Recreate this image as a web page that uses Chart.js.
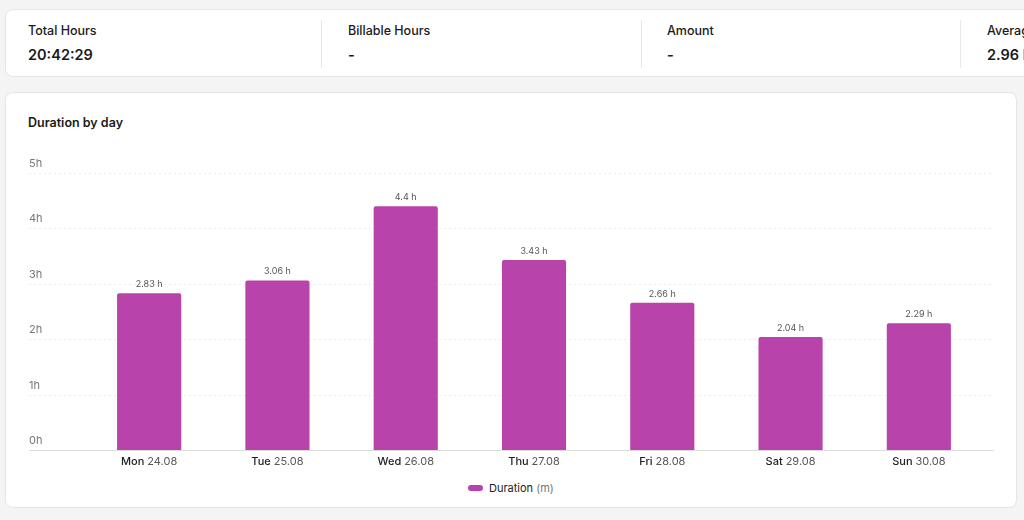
<!DOCTYPE html>
<html><head><meta charset="utf-8">
<script src="https://cdn.jsdelivr.net/npm/chart.js@4"></script>
<style>
body{margin:0;background:#f4f4f4;font-family:Inter,sans-serif;width:1024px;height:520px;overflow:hidden;position:relative}
.stats{position:absolute;left:5px;top:9px;width:1030px;height:68px;background:#fff;border:1px solid #e6e6e6;border-radius:8px;box-sizing:border-box}
.stat{position:absolute;top:0;height:68px}
.stat .l{position:absolute;top:13px;font-size:12.5px;font-weight:500;color:#1a1a1a;white-space:nowrap}
.stat .v{position:absolute;top:36px;font-size:14.5px;font-weight:600;color:#1a1a1a;white-space:nowrap}
.sep{position:absolute;top:10px;width:1px;height:48px;background:#e8e8e8}
.card{position:absolute;left:5px;top:92px;width:1012px;height:416px;background:#fff;border:1px solid #e6e6e6;border-radius:8px;box-sizing:border-box}
.title{position:absolute;left:22px;top:22px;font-size:12.5px;font-weight:600;color:#1a1a1a}
.wrap{position:absolute;left:-1px;top:47px;width:1012px;height:335px}
.legend{position:absolute;top:388px;left:462px;font-size:11px;color:#222;display:flex;align-items:center}
.legend i{display:inline-block;width:15px;height:6px;border-radius:3px;background:#b844ab;margin-right:6px}
.legend span{color:#777;margin-left:3px}
</style></head><body>
<div class="stats">
  <div class="stat" style="left:22px"><div class="l">Total Hours</div><div class="v">20:42:29</div></div>
  <div class="sep" style="left:315px"></div>
  <div class="stat" style="left:342px"><div class="l">Billable Hours</div><div class="v">-</div></div>
  <div class="sep" style="left:635px"></div>
  <div class="stat" style="left:661px"><div class="l">Amount</div><div class="v">-</div></div>
  <div class="sep" style="left:954px"></div>
  <div class="stat" style="left:981px"><div class="l">Average</div><div class="v">2.96 h</div></div>
</div>
<div class="card">
  <div class="title">Duration by day</div>
  <div class="wrap"><canvas id="c" width="1012" height="335" style="width:1012px;height:335px"></canvas></div>
  <div class="legend"><i></i>Duration<span>(m)</span></div>
</div>
<script>
const days = ['Mon','Tue','Wed','Thu','Fri','Sat','Sun'];
const dates = ['24.08','25.08','26.08','27.08','28.08','29.08','30.08'];
const hours = [2.83, 3.06, 4.4, 3.43, 2.66, 2.04, 2.29];
const yTicks = [0, 1, 2, 3, 4, 5];

const decor = {
  id: 'decor',
  beforeDatasetsDraw(chart) {
    const ctx = chart.ctx, y = chart.scales.y, x = chart.scales.x;
    ctx.save();
    ctx.font = '11px Inter';
    yTicks.forEach(v => {
      const py = Math.round(y.getPixelForValue(v)) + 0.5;
      ctx.strokeStyle = v === 0 ? '#dcdcdc' : '#ececec';
      ctx.setLineDash(v === 0 ? [] : [2, 3]);
      ctx.lineWidth = 1;
      ctx.beginPath(); ctx.moveTo(24, py); ctx.lineTo(989, py); ctx.stroke();
      ctx.fillStyle = '#777';
      ctx.textAlign = 'left';
      ctx.fillText(v + 'h', 24, py - 7);
    });
    ctx.setLineDash([]);
    days.forEach((d, i) => {
      const px = x.getPixelForValue(i);
      ctx.font = '500 11px Inter';
      const w1 = ctx.measureText(d + ' ').width;
      ctx.font = '11px Inter';
      const w2 = ctx.measureText(dates[i]).width;
      const sx = px - (w1 + w2) / 2;
      const py = y.getPixelForValue(0) + 15;
      ctx.textAlign = 'left';
      ctx.font = '500 11px Inter'; ctx.fillStyle = '#222';
      ctx.fillText(d, sx, py);
      ctx.font = '11px Inter'; ctx.fillStyle = '#555';
      ctx.fillText(dates[i], sx + w1, py);
    });
    ctx.restore();
  },
  afterDatasetsDraw(chart) {
    const ctx = chart.ctx;
    ctx.save();
    ctx.font = '9px Inter'; ctx.fillStyle = '#555'; ctx.textAlign = 'center';
    chart.getDatasetMeta(0).data.forEach((b, i) => {
      ctx.fillText(hours[i] + ' h', b.x, b.y - 6);
    });
    ctx.restore();
  }
};

new Chart(document.getElementById('c'), {
  type: 'bar',
  data: {
    labels: days,
    datasets: [{ label: 'Duration (m)', data: hours, backgroundColor: '#b844ab',
      borderRadius: { topLeft: 2, topRight: 2 }, borderSkipped: 'bottom',
      barPercentage: 0.5, categoryPercentage: 1 }]
  },
  options: {
    responsive: false, animation: false, events: [], devicePixelRatio: 1,
    layout: { padding: { left: 72, right: 34, top: 33, bottom: 17 } },
    plugins: { legend: { display: false }, tooltip: { enabled: false } },
    scales: {
      x: { ticks: { display: false }, grid: { display: false }, border: { display: false } },
      y: { min: 0, max: 5, ticks: { display: false, stepSize: 1 }, grid: { display: false }, border: { display: false } }
    }
  },
  plugins: [decor]
});
</script>
</body></html>
